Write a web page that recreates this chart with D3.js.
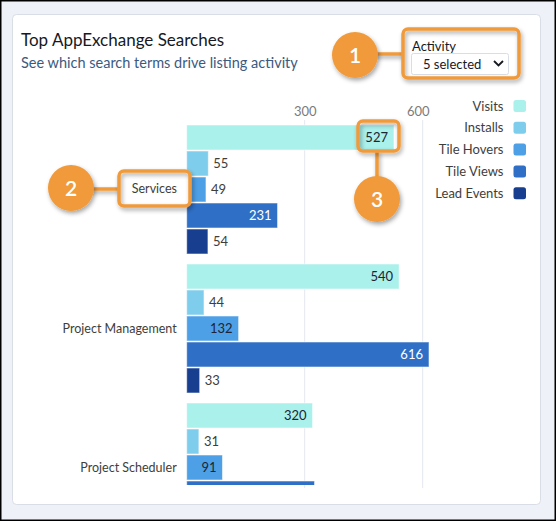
<!DOCTYPE html>
<html><head><meta charset="utf-8">
<script src="https://cdn.jsdelivr.net/npm/d3@7"></script>
<style>
body{margin:0;background:#fff}
svg{display:block}
text{font-family:Lato,"Open Sans",sans-serif}
</style>
</head><body><svg id="c" width="556" height="521"></svg>
<script>
// ---- data ----
const categories = ["Services", "Project Management", "Project Scheduler"];
const seriesNames = ["Visits", "Installs", "Tile Hovers", "Tile Views", "Lead Events"];
const visits     = [527, 540, 320];
const installs   = [55, 44, 31];
const tileHovers = [49, 132, 91];
const tileViews  = [231, 616, 325];
const leadEvents = [54, 33, 28];
const tickValues = [300, 600];
const seriesColors = ["#aaf0eb", "#7fcdec", "#4d9fe6", "#2f6fc6", "#173e8f"];
const seriesLabelColors = ["#1d2533", "#1d2533", "#1d2533", "#ffffff", "#ffffff"];

const seriesValues = [visits, installs, tileHovers, tileViews, leadEvents];
const rows = [];
categories.forEach((c, i) => seriesNames.forEach((s, j) => rows.push({cat: c, series: s, si: j, value: seriesValues[j][i]})));

const svg = d3.select("#c");
const defs = svg.append("defs");
const f = defs.append("filter").attr("id","sh").attr("filterUnits","userSpaceOnUse")
  .attr("x",0).attr("y",0).attr("width",556).attr("height",521);
f.append("feDropShadow").attr("dx",1.5).attr("dy",2.5).attr("stdDeviation",2).attr("flood-color","#000").attr("flood-opacity",0.35);
const plotTop = 118, plotBottom = 485;
defs.append("clipPath").attr("id","plotclip").append("rect").attr("x",14).attr("y",plotTop).attr("width",520).attr("height",plotBottom-plotTop);

// page background + frame
svg.append("rect").attr("x",0).attr("y",0).attr("width",556).attr("height",521).attr("fill","#eef1f8");
svg.append("rect").attr("x",12.5).attr("y",14.5).attr("width",528).attr("height",490).attr("rx",4)
  .attr("fill","#fff").attr("stroke","#d8dde6");
svg.append("rect").attr("x",0.75).attr("y",0.75).attr("width",554.5).attr("height",519.5)
  .attr("fill","none").attr("stroke","#000").attr("stroke-width",1.5);

// titles
svg.append("text").attr("x",21).attr("y",46).attr("font-size",17).attr("fill","#16191f").text("Top AppExchange Searches");
svg.append("text").attr("x",21).attr("y",68).attr("font-size",14.5).attr("fill","#3c5a80").text("See which search terms drive listing activity");

// scales
const x = d3.scaleLinear().domain([0, 600]).range([186.7, 422.7]);
const y0 = d3.scaleBand().domain(categories).range([120, 537]).paddingInner(10/139).paddingOuter(5/139);
const y1 = d3.scaleBand().domain(seriesNames).range([0, y0.bandwidth()]).paddingInner(1/26).paddingOuter(0);
const color = d3.scaleOrdinal().domain(seriesNames).range(seriesColors);

// grid + tick labels
const axis = d3.axisTop(x).tickValues(tickValues).tickSize(0).tickPadding(0);
const ga = svg.append("g").attr("transform","translate(0,116)").call(axis);
ga.select(".domain").remove();
ga.selectAll("text").attr("font-size",13).attr("fill","#7b7b7b").attr("font-family","Lato,'Open Sans',sans-serif")
  .attr("dx",(d,i)=> i===tickValues.length-1 ? -5 : 0);
svg.append("g").selectAll("line").data(tickValues).join("line")
  .attr("x1",d=>x(d)).attr("x2",d=>x(d)).attr("y1",120).attr("y2",488)
  .attr("stroke","#e3e7ee").attr("stroke-width",1);

// bars
const plot = svg.append("g").attr("clip-path","url(#plotclip)");
plot.selectAll("rect.bar").data(rows).join("rect").attr("class","bar")
  .attr("x", x(0))
  .attr("y", d => y0(d.cat) + y1(d.series))
  .attr("width", d => x(d.value) - x(0))
  .attr("height", y1.bandwidth())
  .attr("fill", d => color(d.series))
  .attr("stroke","rgba(255,255,255,0.55)").attr("stroke-width",1);

// value labels (only those whose row is visible in the scroll area)
const visibleRows = rows.filter(d => y0(d.cat) + y1(d.series) + y1.bandwidth() <= plotBottom + 1);
plot.selectAll("text.val").data(visibleRows).join("text").attr("class","val")
  .each(function(d){
    const w = x(d.value) - x(0);
    const inside = w > 30;
    d3.select(this)
      .attr("x", inside ? x(d.value) - 6 : x(d.value) + 5)
      .attr("y", y0(d.cat) + y1(d.series) + y1.bandwidth()/2)
      .attr("dy","0.35em")
      .attr("text-anchor", inside ? "end" : "start")
      .attr("font-size",13)
      .attr("fill", inside ? seriesLabelColors[d.si] : "#3e3e3c")
      .text(d.value);
  });

// category labels
svg.append("g").selectAll("text").data(categories).join("text")
  .attr("x", x(0) - 10)
  .attr("y", d => y0(d) + y0.bandwidth()/2)
  .attr("dy","0.35em").attr("text-anchor","end").attr("font-size",12.5).attr("fill","#3e3e3c")
  .text(d => d);

// legend
const lg = svg.append("g").selectAll("g").data(seriesNames).join("g")
  .attr("transform",(d,i)=>`translate(0,${106 + i*21.8})`);
lg.append("text").attr("x",503.5).attr("dy","0.35em").attr("text-anchor","end").attr("font-size",13).attr("fill","#3e3e3c").text(d=>d);
lg.append("rect").attr("x",513.5).attr("y",-6).attr("width",12.5).attr("height",12).attr("rx",2.5).attr("fill",d=>color(d));

// ---- annotations ----
const orange = "#f09a3a";
function callout(cx, cy, label){
  const g = svg.append("g");
  g.append("circle").attr("cx",cx).attr("cy",cy).attr("r",23).attr("fill",orange).attr("filter","url(#sh)");
  g.append("text").attr("x",cx).attr("y",cy).attr("dy","0.36em").attr("text-anchor","middle")
    .attr("font-size",21).attr("font-weight",600).attr("fill","#fff").text(label);
}
function box(x0,y0_,w,h){
  svg.append("rect").attr("x",x0).attr("y",y0_).attr("width",w).attr("height",h).attr("rx",5)
    .attr("fill","none").attr("stroke",orange).attr("stroke-width",3.5).attr("filter","url(#sh)");
}
function link(x1,y1_,x2,y2){
  const t = 3.5;
  svg.append("rect")
    .attr("x", Math.min(x1,x2) - (x1===x2 ? t/2 : 0))
    .attr("y", Math.min(y1_,y2) - (y1_===y2 ? t/2 : 0))
    .attr("width", x1===x2 ? t : Math.abs(x2-x1))
    .attr("height", y1_===y2 ? t : Math.abs(y2-y1_))
    .attr("fill",orange).attr("filter","url(#sh)");
}

// 1: Activity dropdown
link(372,54,404,54);
svg.append("rect").attr("x",403).attr("y",29).attr("width",116).attr("height",49).attr("rx",5).attr("fill","#fff");
svg.append("text").attr("x",412).attr("y",51).attr("font-size",13).attr("fill","#16191f").text("Activity");
svg.append("rect").attr("x",411.5).attr("y",53.5).attr("width",97).attr("height",21).attr("rx",2).attr("fill","#fff").attr("stroke","#d8dde6");
svg.append("text").attr("x",423).attr("y",68.5).attr("font-size",13).attr("fill","#16191f").text("5 selected");
svg.append("path").attr("d","M494,61 L498.5,65.5 L503,61").attr("fill","none").attr("stroke","#16191f").attr("stroke-width",1.8);
box(403,29,116,49);
callout(355,55,"1");

// 2: Services label
link(88,189,120,189);
svg.append("rect").attr("x",119).attr("y",171).attr("width",71).attr("height",35).attr("rx",5).attr("fill","#fff");
svg.append("text").attr("x",177).attr("y",189).attr("dy","0.35em").attr("text-anchor","end").attr("font-size",12.5).attr("fill","#3e3e3c").text("Services");
box(119,171,71,35);
callout(71,188,"2");

// 3: value label
link(377,151,377,182);
box(358,121,41,30);
callout(377,199,"3");
</script>
</body></html>
